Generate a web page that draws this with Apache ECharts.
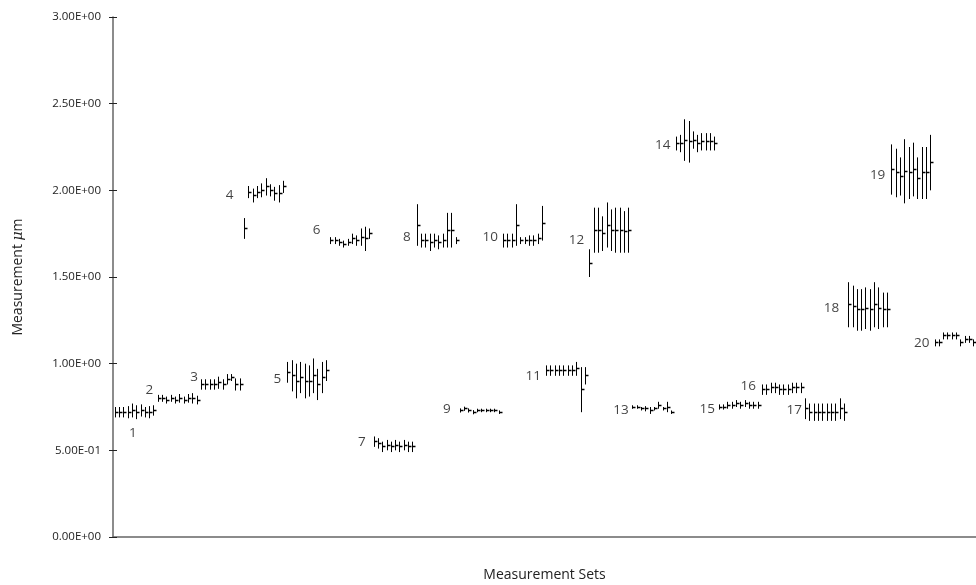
<!DOCTYPE html>
<html>
<head>
<meta charset="utf-8">
<script src="https://cdn.jsdelivr.net/npm/echarts@6/dist/echarts.min.js"></script>
<style>
  html, body { margin: 0; padding: 0; background: #fff; }
  #chart { width: 976px; height: 585px; }
</style>
</head>
<body>
<div id="chart"></div>
<script>
// Measurement sets: 20 sets, 10 repeated measurements each (mean and half-width of error bar)
const setNames = ['1','2','3','4','5','6','7','8','9','10','11','12','13','14','15','16','17','18','19','20'];

const means = [
  [0.72, 0.72, 0.72, 0.72, 0.73, 0.72, 0.73, 0.72, 0.72, 0.73],
  [0.80, 0.80, 0.79, 0.80, 0.79, 0.80, 0.79, 0.80, 0.80, 0.79],
  [0.88, 0.88, 0.88, 0.88, 0.89, 0.88, 0.91, 0.92, 0.88, 0.88],
  [1.78, 1.99, 1.97, 1.99, 2.00, 2.02, 2.00, 1.98, 1.98, 2.02],
  [0.95, 0.93, 0.90, 0.92, 0.90, 0.90, 0.93, 0.88, 0.92, 0.96],
  [1.71, 1.71, 1.70, 1.69, 1.70, 1.72, 1.71, 1.73, 1.72, 1.75],
  [0.55, 0.54, 0.52, 0.53, 0.52, 0.53, 0.52, 0.53, 0.52, 0.52],
  [1.80, 1.71, 1.71, 1.70, 1.71, 1.70, 1.71, 1.77, 1.77, 1.71],
  [0.73, 0.74, 0.73, 0.72, 0.73, 0.73, 0.73, 0.73, 0.73, 0.72],
  [1.71, 1.71, 1.71, 1.80, 1.71, 1.71, 1.71, 1.71, 1.72, 1.81],
  [0.96, 0.96, 0.96, 0.96, 0.96, 0.96, 0.96, 0.97, 0.85, 0.93],
  [1.58, 1.77, 1.77, 1.75, 1.80, 1.77, 1.77, 1.77, 1.76, 1.77],
  [0.75, 0.75, 0.74, 0.74, 0.73, 0.74, 0.76, 0.74, 0.75, 0.72],
  [2.27, 2.27, 2.29, 2.28, 2.29, 2.27, 2.28, 2.28, 2.28, 2.27],
  [0.75, 0.75, 0.76, 0.76, 0.77, 0.76, 0.77, 0.76, 0.76, 0.76],
  [0.85, 0.85, 0.86, 0.86, 0.85, 0.85, 0.85, 0.86, 0.86, 0.86],
  [0.74, 0.72, 0.72, 0.72, 0.72, 0.72, 0.72, 0.72, 0.74, 0.72],
  [1.34, 1.33, 1.31, 1.31, 1.32, 1.31, 1.34, 1.32, 1.31, 1.31],
  [2.12, 2.10, 2.08, 2.11, 2.10, 2.12, 2.07, 2.10, 2.10, 2.16],
  [1.12, 1.12, 1.16, 1.16, 1.16, 1.16, 1.12, 1.14, 1.14, 1.12]
];

const errors = [
  [0.030, 0.030, 0.030, 0.035, 0.040, 0.040, 0.035, 0.030, 0.035, 0.030],
  [0.020, 0.020, 0.020, 0.020, 0.020, 0.025, 0.020, 0.025, 0.030, 0.025],
  [0.030, 0.030, 0.030, 0.030, 0.035, 0.030, 0.030, 0.020, 0.035, 0.035],
  [0.060, 0.035, 0.040, 0.035, 0.040, 0.050, 0.035, 0.040, 0.050, 0.035],
  [0.060, 0.090, 0.100, 0.090, 0.100, 0.090, 0.100, 0.090, 0.090, 0.060],
  [0.020, 0.020, 0.020, 0.020, 0.020, 0.030, 0.030, 0.050, 0.070, 0.030],
  [0.030, 0.030, 0.030, 0.030, 0.030, 0.030, 0.030, 0.030, 0.030, 0.030],
  [0.120, 0.040, 0.040, 0.050, 0.040, 0.040, 0.040, 0.100, 0.100, 0.020],
  [0.012, 0.012, 0.012, 0.012, 0.010, 0.010, 0.010, 0.010, 0.010, 0.010],
  [0.040, 0.040, 0.040, 0.120, 0.020, 0.020, 0.030, 0.030, 0.030, 0.100],
  [0.030, 0.030, 0.030, 0.030, 0.030, 0.030, 0.030, 0.040, 0.130, 0.050],
  [0.080, 0.130, 0.130, 0.100, 0.130, 0.120, 0.130, 0.130, 0.120, 0.130],
  [0.010, 0.010, 0.010, 0.015, 0.020, 0.010, 0.020, 0.010, 0.030, 0.010],
  [0.040, 0.050, 0.120, 0.120, 0.050, 0.050, 0.050, 0.050, 0.050, 0.040],
  [0.015, 0.015, 0.020, 0.020, 0.020, 0.020, 0.020, 0.020, 0.020, 0.020],
  [0.030, 0.030, 0.030, 0.030, 0.030, 0.030, 0.030, 0.030, 0.030, 0.030],
  [0.060, 0.050, 0.050, 0.050, 0.050, 0.050, 0.050, 0.050, 0.060, 0.050],
  [0.130, 0.120, 0.120, 0.120, 0.120, 0.120, 0.130, 0.120, 0.100, 0.100],
  [0.145, 0.140, 0.110, 0.185, 0.150, 0.155, 0.120, 0.150, 0.150, 0.160],
  [0.020, 0.020, 0.020, 0.020, 0.020, 0.020, 0.020, 0.020, 0.020, 0.020]
];

// Where each set's number is written, in axis units (measurement index, value)
const setLabelX = [4.6, 8.4, 18.8, 27.0, 38.1, 47.2, 57.7, 68.1, 77.4, 87.4,
                   97.4, 107.4, 117.7, 127.4, 137.7, 147.2, 157.9, 166.5, 177.2, 187.4];
const setLabelY = [0.60, 0.85, 0.92, 1.97, 0.91, 1.77, 0.55, 1.73, 0.74, 1.73,
                   0.93, 1.71, 0.73, 2.26, 0.74, 0.87, 0.73, 1.32, 2.09, 1.12];

const yTicks = { min: 0, max: 3, interval: 0.5 };

// Flatten to [index, mean, halfWidth]
const points = [];
means.forEach((row, g) => {
  row.forEach((m, k) => {
    points.push([g * row.length + k + 0.5, m, errors[g][k]]);
  });
});
const totalCount = points.length;

function sci(v) {
  if (v === 0) return '0.00E+00';
  let e = Math.floor(Math.log10(Math.abs(v)) + 1e-9);
  const m = v / Math.pow(10, e);
  return m.toFixed(2) + 'E' + (e < 0 ? '-' : '+') + String(Math.abs(e)).padStart(2, '0');
}

const FONT = '"Open Sans", "DejaVu Sans", sans-serif';
const chart = echarts.init(document.getElementById('chart'));

function crisp(v) { return Math.round(v - 0.5) + 0.5; }

chart.setOption({
  animation: false,
  backgroundColor: '#fff',
  grid: { left: 113, right: 0, top: 17, bottom: 48, containLabel: false, outerBoundsMode: 'none' },
  xAxis: {
    type: 'value', min: 0, max: totalCount,
    name: 'Measurement Sets', nameLocation: 'middle', nameGap: 31,
    nameTextStyle: { fontFamily: FONT, fontSize: 14, color: '#222' },
    axisLine: { show: true, lineStyle: { color: '#666', width: 1.5 } },
    axisTick: { show: false }, axisLabel: { show: false }, splitLine: { show: false }
  },
  yAxis: [
    {
      type: 'value', min: yTicks.min, max: yTicks.max, interval: yTicks.interval,
      name: '{n|Measurement }{mu|\u03bc}{n|m}', nameLocation: 'middle', nameGap: 88,
      nameTextStyle: {
        rich: {
          n: { fontFamily: FONT, fontSize: 14, color: '#222' },
          mu: { fontFamily: '"DejaVu Serif", serif', fontStyle: 'italic', fontSize: 14, color: '#222' }
        }
      },
      axisLine: { show: true, lineStyle: { color: '#666', width: 1.5 } },
      axisTick: { show: true, length: 4, lineStyle: { color: '#222' } },
      axisLabel: { fontFamily: FONT, fontSize: 11.5, color: '#222', margin: 12, formatter: sci },
      splitLine: { show: false }
    },
    {
      type: 'value', min: yTicks.min, max: yTicks.max, interval: yTicks.interval,
      position: 'left',
      axisLine: { show: false },
      axisTick: { show: true, inside: true, length: 4, lineStyle: { color: '#222' } },
      axisLabel: { show: false },
      splitLine: { show: false }
    }
  ],
  series: [
    {
      type: 'custom',
      data: points,
      encode: { x: 0, y: 1 },
      clip: false,
      renderItem: function (params, api) {
        const x = api.value(0), m = api.value(1), e = api.value(2);
        const top = api.coord([x, m + e]);
        const bot = api.coord([x, m - e]);
        const mid = api.coord([x, m]);
        const cx = crisp(mid[0]);
        const cy = crisp(mid[1]);
        return {
          type: 'group',
          children: [
            { type: 'line', shape: { x1: cx, y1: top[1], x2: cx, y2: bot[1] },
              style: { stroke: '#000', lineWidth: 1 } },
            { type: 'line', shape: { x1: cx - 0.5, y1: cy, x2: cx + 3, y2: cy },
              style: { stroke: '#000', lineWidth: 1.5 } }
          ]
        };
      }
    },
    {
      type: 'scatter',
      symbolSize: 0,
      silent: true,
      data: setNames.map((n, i) => ({ value: [setLabelX[i], setLabelY[i]], name: n })),
      label: {
        show: true, position: 'inside', formatter: '{b}',
        fontFamily: FONT, fontSize: 13.5, color: '#111'
      }
    }
  ]
});
</script>
</body>
</html>
